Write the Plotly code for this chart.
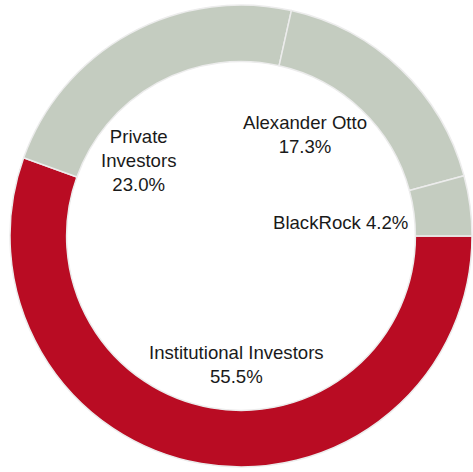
import plotly.graph_objects as go

W, H = 473, 472

holders = ['Institutional Investors', 'Private Investors', 'Alexander Otto', 'BlackRock']
shares = [55.5, 23.0, 17.3, 4.2]
colors = ['#b90c23', '#c4ccc0', '#c4ccc0', '#c4ccc0']

# label text and where it sits inside the hole (pixel centres)
label_text = ['Institutional Investors<br>55.5%', 'Private<br>Investors<br>23.0%',
              'Alexander Otto<br>17.3%', 'BlackRock 4.2%']
label_px = [(236, 364), (138, 160), (305, 134), (340, 222)]

fig = go.Figure(go.Pie(
    labels=holders,
    values=shares,
    hole=0.755,
    sort=False,
    direction='clockwise',
    rotation=90,
    textinfo='none',
    hoverinfo='label+percent',
    marker=dict(colors=colors, line=dict(color='#ececec', width=1.5)),
    domain=dict(x=[10 / W, 472 / W], y=[1 - 467 / H, 1 - 5 / H]),
))

for txt, (px_, py_) in zip(label_text, label_px):
    fig.add_annotation(x=px_ / W, y=1 - py_ / H, xref='paper', yref='paper',
                       text=txt, showarrow=False, xanchor='center', yanchor='middle',
                       font=dict(family='Liberation Sans, Arial', size=18.6, color='#1a1a1a'))

fig.update_layout(width=W, height=H, margin=dict(l=0, r=0, t=0, b=0),
                  showlegend=False, paper_bgcolor='white', plot_bgcolor='white')
# drop the default 8px body margin so the figure sits at the page corner
fig.write_html("out.html", config={'displayModeBar': False},
               post_script="document.body.style.margin='0';")
